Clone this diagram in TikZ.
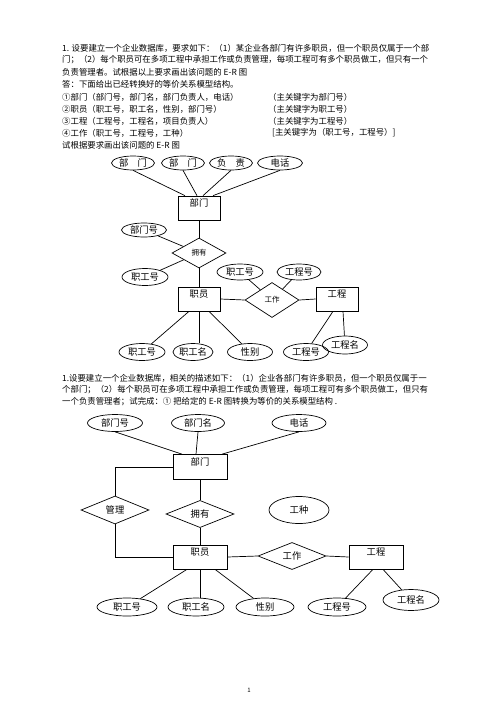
\documentclass[tikz,border=0pt]{standalone}
\usepackage{fontspec}
\setmainfont{Noto Sans CJK SC}
\usetikzlibrary{shapes.geometric}
\newcommand{\fsz}[1]{\fontsize{#1}{#1}\selectfont}
\tikzset{
	para/.style={anchor=west, inner sep=0pt, font=\fsz{8.4}},
	attr/.style={draw, ellipse, line width=0.7pt, inner sep=0pt, font=\fsz{9.3}},
	entity/.style={draw, rectangle, line width=0.7pt, inner sep=1pt, text height=8pt, text depth=10.4pt, font=\fsz{9.3}},
	rel/.style={draw, diamond, line width=0.7pt, inner sep=0pt},
	conn/.style={line width=0.7pt}
}

\begin{document}
\begin{tikzpicture}[x=1pt, y=-1pt]
			%%%%% START %%%%%
			\useasboundingbox (0, 0) rectangle (496, 702);
			
			% first question
			\node[para] (qa1) at (62, 48) {1. 设要建立一个企业数据库，要求如下：（1）某企业各部门有许多职员，但一个职员仅属于一个部};
			\node[para] (qa2) at (62, 60) {门；（2）每个职员可在多项工程中承担工作或负责管理，每项工程可有多个职员做工，但只有一个};
			\node[para] (qa3) at (62, 72) {负责管理者。试根据以上要求画出该问题的 E-R 图};
			\node[para] (qa4) at (62, 84) {答：下面给出已经转换好的等价关系模型结构。};
			\node[para] (qa5) at (62, 97) {①部门（部门号，部门名，部门负责人，电话）};
			\node[para] (qa6) at (62, 109) {②职员（职工号，职工名，性别，部门号）};
			\node[para] (qa7) at (62, 121) {③工程（工程号，工程名，项目负责人）};
			\node[para] (qa8) at (62, 133) {④工作（职工号，工程号，工种）};
			\node[para] (qa9) at (62, 145) {试根据要求画出该问题的 E-R 图};
			\node[para] (ka5) at (268, 97) {（主关键字为部门号）};
			\node[para] (ka6) at (268, 109) {（主关键字为职工号）};
			\node[para] (ka7) at (268, 121) {（主关键字为工程号）};
			\node[para] (ka8) at (272, 133) {[主关键字为（职工号，工程号）]};
			
			% upper E-R diagram
			\node[attr, minimum width=43pt, minimum height=14pt] (bmA) at (133, 163) {部　门};
			\node[attr, minimum width=43pt, minimum height=14pt] (bmB) at (183, 163) {部　门};
			\node[attr, minimum width=43pt, minimum height=14pt] (fzA) at (231, 163) {负　责};
			\node[attr, minimum width=45pt, minimum height=14pt] (dhA) at (280, 163) {电话};
			\node[entity, minimum width=42pt, minimum height=24pt] (bmE) at (199, 208) {部门};
			\node[attr, minimum width=45pt, minimum height=14pt] (bmhA) at (144, 230) {部门号};
			\node[rel, minimum width=54pt, minimum height=30pt, font=\fsz{7.5}] (yyA) at (199, 253) {拥有};
			\node[attr, minimum width=46pt, minimum height=17pt] (zghA) at (145, 277) {职工号};
			\node[entity, minimum width=42pt, minimum height=24pt] (zyE) at (199, 299) {职员};
			\node[attr, minimum width=46pt, minimum height=16pt] (zghB) at (240, 272) {职工号};
			\node[attr, minimum width=44pt, minimum height=16pt] (gchA) at (299, 272) {工程号};
			\node[rel, minimum width=54pt, minimum height=35pt, font=\fsz{7.5}] (gzA) at (272, 300) {工作};
			\node[entity, minimum width=42pt, minimum height=24pt] (gcE) at (337, 299) {工程};
			\node[attr, minimum width=46pt, minimum height=17pt] (zghC) at (142, 352) {职工号};
			\node[attr, minimum width=40pt, minimum height=17pt] (zgmA) at (193, 352) {职工名};
			\node[attr, minimum width=45pt, minimum height=17pt] (xbA) at (250, 352) {性别};
			\node[attr, minimum width=45pt, minimum height=17pt] (gchB) at (306, 352) {工程号};
			\node[attr, minimum width=45pt, minimum height=18pt] (gcmA) at (345, 345) {工程名};
			
			\draw[conn] (bmA.south) -- ([xshift=-14]bmE.north);
			\draw[conn] (bmB.south) -- ([xshift=-2]bmE.north);
			\draw[conn] (fzA.south) -- ([xshift=4]bmE.north);
			\draw[conn] (dhA.south) -- ([xshift=14]bmE.north);
			\draw[conn] (bmE.south) -- (yyA.north);
			\draw[conn] (bmhA) -- (yyA);
			\draw[conn] (zghA) -- (yyA);
			\draw[conn] (yyA.south) -- (zyE.north);
			\draw[conn] (zyE.east) -- (gzA.west);
			\draw[conn] (gzA.east) -- (gcE.west);
			\draw[conn] (zghB) -- (gzA);
			\draw[conn] (gchA) -- (gzA);
			\draw[conn] ([xshift=-10]zyE.south) -- (zghC);
			\draw[conn] (zyE.south) -- (zyE.south |- zgmA.north);
			\draw[conn] ([xshift=10]zyE.south) -- (xbA);
			\draw[conn] ([xshift=-4]gcE.south) -- (gchB);
			\draw[conn] ([xshift=6]gcE.south) -- (gcmA);
			
			% second question
			\node[para] (qb1) at (62, 378) {1.设要建立一个企业数据库，相关的描述如下：（1）企业各部门有许多职员，但一个职员仅属于一};
			\node[para] (qb2) at (62, 390) {个部门；（2）每个职员可在多项工程中承担工作或负责管理，每项工程可有多个职员做工，但只有};
			\node[para] (qb3) at (62, 402) {一个负责管理者；试完成：① 把给定的 E-R 图转换为等价的关系模型结构 .};
			
			% lower E-R diagram
			\node[attr, minimum width=55pt, minimum height=17pt] (bmhD) at (115, 423) {部门号};
			\node[attr, minimum width=53pt, minimum height=17pt] (bmmD) at (198, 423) {部门名};
			\node[attr, minimum width=54pt, minimum height=17pt] (dhD) at (299, 423) {电话};
			\node[entity, minimum width=54pt, minimum height=25pt] (bmF) at (200, 467) {部门};
			\node[rel, minimum width=68pt, minimum height=28pt, font=\fsz{9.3}] (glD) at (115, 510) {管理};
			\node[rel, minimum width=68pt, minimum height=26pt, font=\fsz{9.3}] (yyD) at (200, 514) {拥有};
			\node[attr, minimum width=60pt, minimum height=27pt] (gzhD) at (299, 510) {工种};
			\node[entity, minimum width=54pt, minimum height=24pt] (zyF) at (200, 557) {职员};
			\node[rel, minimum width=68pt, minimum height=24pt, font=\fsz{9.3}] (gzD) at (292, 556) {工作};
			\node[entity, minimum width=54pt, minimum height=24pt] (gcF) at (376, 557) {工程};
			\node[attr, minimum width=60pt, minimum height=18pt] (zghD) at (127, 607) {职工号};
			\node[attr, minimum width=56pt, minimum height=18pt] (zgmD) at (196, 607) {职工名};
			\node[attr, minimum width=58pt, minimum height=18pt] (xbD) at (265, 607) {性别};
			\node[attr, minimum width=58pt, minimum height=18pt] (gchD) at (337, 607) {工程号};
			\node[attr, minimum width=56pt, minimum height=21pt] (gcmD) at (411, 600) {工程名};
			
			\draw[conn] (bmhD.south) -- ([xshift=-18]bmF.north);
			\draw[conn] (bmmD.south) -- ([xshift=-4]bmF.north);
			\draw[conn] (dhD.south) -- ([xshift=22]bmF.north);
			\draw[conn] (bmF.west) -| (glD.north);
			\draw[conn] (glD.south) |- (zyF.west);
			\draw[conn] (bmF.south) -- (yyD.north);
			\draw[conn] (yyD.south) -- (zyF.north);
			\draw[conn] (zyF.east) -- (gzD.west);
			\draw[conn] (gzD.east) -- (gcF.west);
			\draw[conn] ([xshift=-13]zyF.south) -- (zghD);
			\draw[conn] (zyF.south) -- (zyF.south |- zgmD.north);
			\draw[conn] ([xshift=15]zyF.south) -- (xbD);
			\draw[conn] ([xshift=-3]gcF.south) -- (gchD);
			\draw[conn] ([xshift=7]gcF.south) -- (gcmD);
			
			\node[font=\fsz{6}, inner sep=0pt] (pg) at (249, 690) {1};
			%%%%% END %%%%%
\end{tikzpicture}
\end{document}
